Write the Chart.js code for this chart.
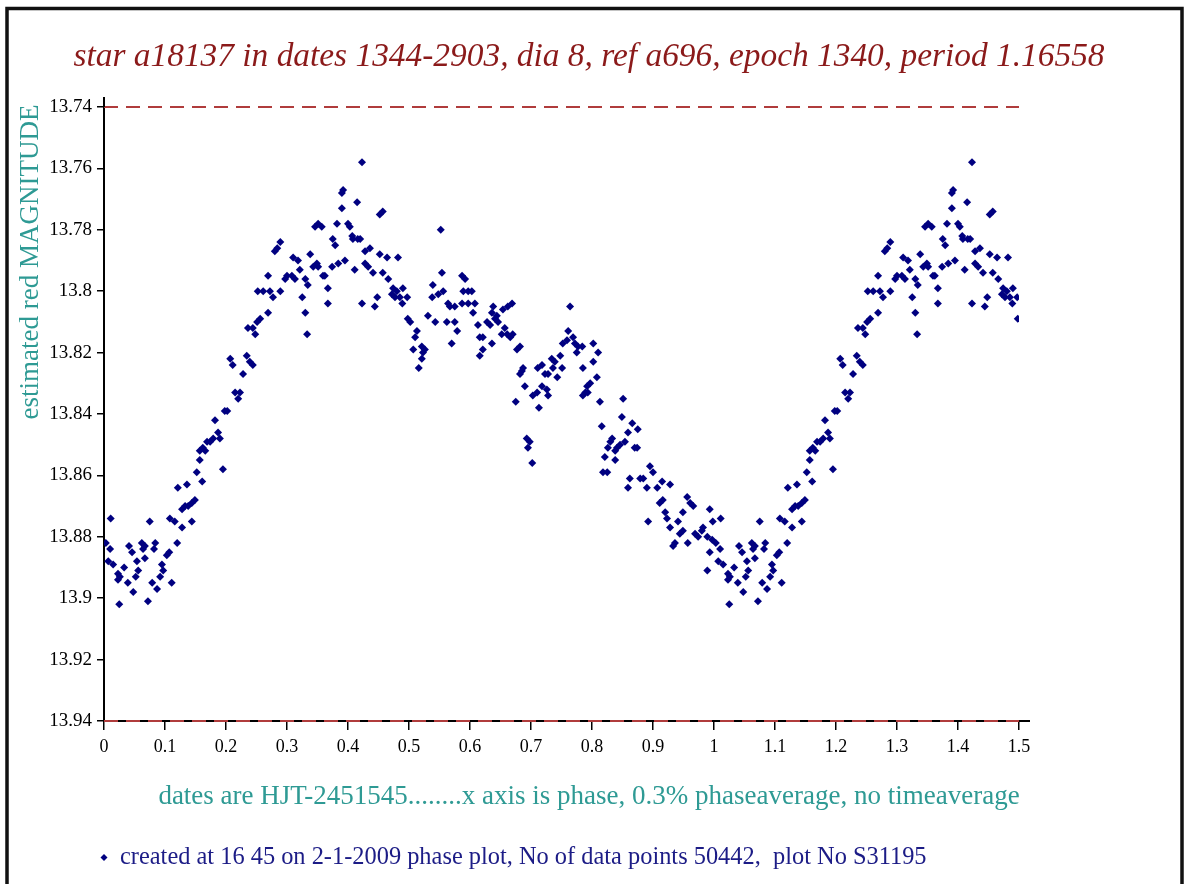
<!DOCTYPE html>
<html>
<head>
<meta charset="utf-8">
<title>star a18137 phase plot</title>
<script src="https://cdn.jsdelivr.net/npm/chart.js@4.4.1/dist/chart.umd.min.js"></script>
<style>
    html, body { margin: 0; padding: 0; background: #fff; }
    #wrap { position: relative; width: 1186px; height: 884px; }
</style>
</head>
<body>
<div id="wrap"><canvas id="phasePlot" width="1186" height="884"></canvas></div>
<script>
// --- Data: phase 0..1 (the 1..1.5 part repeats 0..0.5) ---
const phase = [
    // rising branch, minimum
    0.003,0.007,0.010,0.011,0.015,0.023,0.023,0.025,0.026,0.033,0.039,0.041,0.046,0.048,0.052,0.054,0.056,0.062,0.064,0.067,
    0.067,0.072,0.075,0.079,0.082,0.084,0.087,0.092,0.095,0.097,0.103,0.107,0.108,0.111,0.116,0.120,0.121,0.128,0.128,0.133,
    0.136,0.138,0.144,0.144,0.149,0.152,0.157,0.157,0.161,0.162,0.166,0.169,
    0.174,0.179,0.182,0.187,0.190,0.195,0.198,0.202,0.207,0.211,0.215,0.220,0.223,0.228,0.234,0.236,0.239,0.244,0.244,0.248,
    0.251,0.252,0.256,0.261,0.269,0.269,0.272,0.277,0.280,0.284,0.289,0.289,0.297,0.300,
    // maximum
    0.308,0.310,0.313,0.318,0.321,0.325,0.330,0.330,0.333,0.334,0.338,0.343,0.346,0.349,0.351,0.351,0.357,0.359,0.362,0.367,
    0.367,0.374,0.375,0.379,0.382,0.384,0.390,0.390,0.392,0.395,0.400,0.403,0.407,0.408,0.411,0.415,0.416,
    0.420,0.423,0.423,0.428,0.428,0.433,0.436,0.441,0.444,0.448,0.452,0.452,0.457,0.457,0.464,0.466,0.472,0.474,0.477,0.480,
    0.482,0.485,0.489,0.490,0.497,0.498,0.502,0.507,0.510,0.513,0.516,0.521,0.521,0.523,0.526,0.531,0.538,0.539,0.543,0.548,
    0.552,0.554,0.556,0.562,0.564,0.567,0.570,0.575,0.575,0.579,
    // shoulder and decline
    0.587,0.587,0.589,0.592,0.597,0.597,0.603,0.605,0.608,0.613,0.616,0.616,0.621,0.621,0.628,0.633,0.636,0.636,0.638,0.641,
    0.644,0.646,0.652,0.654,0.657,0.661,0.662,0.666,0.669,0.670,0.675,0.677,0.682,0.682,0.685,0.687,0.690,0.693,0.695,0.698,
    0.702,0.703,0.710,0.711,0.713,0.718,0.718,0.723,0.726,0.728,0.728,0.734,0.736,0.739,0.743,0.748,0.751,0.752,0.759,0.761,
    0.764,0.769,0.772,0.775,0.777,
    0.784,0.785,0.785,0.789,0.792,0.793,0.797,0.802,0.802,0.808,0.810,0.813,0.816,0.818,0.821,0.825,0.826,0.830,0.833,0.838,
    0.838,0.841,0.846,0.849,0.851,0.854,0.859,0.859,0.862,0.866,0.870,0.874,0.875,0.879,0.884,0.895,0.900,
    0.890,0.892,0.907,0.911,0.915,0.916,0.920,0.923,0.928,0.928,0.933,0.936,0.941,0.944,0.949,0.949,0.956,0.957,0.961,0.966,
    0.969,0.974,0.980,0.982,0.989,0.989,0.993,0.993,0.997,0.998
];
const magnitude = [
    13.882,13.888,13.884,13.874,13.889,13.892,13.894,13.902,13.893,13.890,13.895,13.883,13.885,13.898,13.893,13.888,13.891,13.882,13.884,13.883,
    13.887,13.901,13.875,13.895,13.884,13.882,13.897,13.893,13.889,13.891,13.886,13.885,13.874,13.895,13.875,13.882,13.864,13.871,13.877,13.870,
    13.863,13.870,13.869,13.875,13.868,13.859,13.852,13.855,13.862,13.851,13.852,13.849,
    13.849,13.848,13.842,13.846,13.848,13.858,13.839,13.839,13.822,13.824,13.833,13.835,13.833,13.827,13.821,13.812,13.823,13.812,13.824,13.814,
    13.810,13.800,13.809,13.800,13.795,13.807,13.800,13.802,13.787,13.786,13.784,13.800,13.796,13.795,
    13.795,13.789,13.796,13.790,13.793,13.802,13.796,13.807,13.814,13.798,13.788,13.792,13.779,13.791,13.778,13.792,13.779,13.795,13.795,13.799,
    13.804,13.792,13.783,13.785,13.778,13.791,13.768,13.773,13.767,13.790,13.778,13.779,13.782,13.783,13.793,13.771,13.783,
    13.783,13.758,13.804,13.787,13.791,13.792,13.786,13.794,13.805,13.802,13.775,13.788,13.774,13.794,13.789,13.796,13.801,13.799,13.802,13.800,
    13.789,13.802,13.804,13.799,13.802,13.809,13.810,13.819,13.815,13.813,13.825,13.818,13.822,13.820,13.819,13.808,13.802,13.798,13.810,13.801,
    13.780,13.794,13.800,13.810,13.804,13.805,13.817,13.805,13.810,13.813,
    13.795,13.804,13.800,13.796,13.800,13.804,13.800,13.807,13.804,13.811,13.815,13.821,13.815,13.819,13.810,13.811,13.807,13.817,13.805,13.809,
    13.808,13.810,13.814,13.806,13.812,13.814,13.805,13.815,13.804,13.814,13.836,13.819,13.818,13.827,13.826,13.825,13.831,13.848,13.851,13.849,
    13.856,13.834,13.833,13.825,13.838,13.824,13.831,13.827,13.832,13.827,13.834,13.822,13.825,13.823,13.828,13.821,13.825,13.817,13.816,13.813,
    13.805,13.815,13.817,13.820,13.818,
    13.818,13.825,13.834,13.833,13.831,13.833,13.830,13.817,13.823,13.828,13.820,13.836,13.844,13.859,13.854,13.859,13.851,13.849,13.848,13.852,
    13.855,13.851,13.850,13.841,13.835,13.849,13.846,13.864,13.861,13.843,13.851,13.851,13.845,13.861,13.861,13.857,13.859,
    13.864,13.875,13.864,13.869,13.862,13.868,13.872,13.874,13.863,13.877,13.883,13.882,13.875,13.879,13.872,13.878,13.867,13.882,13.869,13.870,
    13.879,13.880,13.878,13.877,13.880,13.891,13.871,13.885,13.881,13.875
];

// axis ranges (magnitude axis runs downwards)
const magRange = [13.74, 13.94];
const phaseRange = [0, 1.5];

const titleText = 'star a18137 in dates 1344-2903, dia 8, ref a696, epoch 1340, period 1.16558';
const yTitleText = 'estimated red MAGNITUDE';
const captionText = 'dates are HJT-2451545........x axis is phase, 0.3% phaseaverage, no timeaverage';
const footText = 'created at 16 45 on 2-1-2009 phase plot, No of data points 50442,  plot No S31195';

const SERIF = '"Liberation Serif", "DejaVu Serif", serif';
const NAVY = '#000080';

// phase plot shows each point once, and again shifted by one period up to 1.5
const points = [];
phase.forEach((p, i) => {
    points.push({ x: p, y: magnitude[i] });
    if (p + 1 <= phaseRange[1]) points.push({ x: p + 1, y: magnitude[i] });
});

// plain number labels: 13.8, 1 (no trailing zeros)
const plainTick = v => String(+Number(v).toFixed(3));

function limitLine(mag) {
    return {
        type: 'line',
        data: [{ x: phaseRange[0], y: mag }, { x: phaseRange[1], y: mag }],
        showLine: true,
        clip: false,
        borderColor: '#b03c3c',
        backgroundColor: '#b03c3c',
        borderWidth: 2,
        borderDash: [14, 8],
        pointRadius: 0,
        fill: false
    };
}

// --- frame + free text that Chart.js does not place the way the original does ---
const frameAndText = {
    id: 'frameAndText',
    beforeDraw(chart) {
        const ctx = chart.ctx;
        ctx.save();
        ctx.fillStyle = '#fff';
        ctx.fillRect(0, 0, chart.width, chart.height);
        ctx.restore();
    },
    afterDraw(chart) {
        const { ctx, chartArea } = chart;
        ctx.save();

        // outer frame (bottom edge is cut off in the original)
        ctx.strokeStyle = '#111';
        ctx.lineWidth = 3.5;
        ctx.beginPath();
        ctx.moveTo(7, 884); ctx.lineTo(7, 8.5); ctx.lineTo(1182, 8.5); ctx.lineTo(1182, 884);
        ctx.stroke();

        // axis lines run a bit past the plot area
        ctx.strokeStyle = '#000';
        ctx.lineWidth = 2;
        ctx.beginPath();
        ctx.moveTo(chartArea.left, chartArea.top); ctx.lineTo(chartArea.left, chartArea.top - 10);
        ctx.moveTo(chartArea.right, chartArea.bottom); ctx.lineTo(chartArea.right + 11, chartArea.bottom);
        ctx.stroke();

        // title
        ctx.fillStyle = '#8b1a1a';
        ctx.font = 'italic 33.4px ' + SERIF;
        ctx.textAlign = 'center';
        ctx.textBaseline = 'middle';
        ctx.fillText(titleText, 589, 57);

        // y title, rotated, sits high like the original
        ctx.save();
        ctx.translate(31, 262);
        ctx.rotate(-Math.PI / 2);
        ctx.fillStyle = '#2e9a94';
        ctx.font = '27px ' + SERIF;
        ctx.fillText(yTitleText, 0, 0);
        ctx.restore();

        // x caption
        ctx.fillStyle = '#2e9a94';
        ctx.font = '27px ' + SERIF;
        ctx.fillText(captionText, 589, 797);

        // footnote with marker
        ctx.fillStyle = NAVY;
        ctx.beginPath();
        ctx.moveTo(104, 854); ctx.lineTo(107.5, 857.5); ctx.lineTo(104, 861); ctx.lineTo(100.5, 857.5);
        ctx.closePath();
        ctx.fill();
        ctx.fillStyle = '#1c1c86';
        ctx.font = '24.4px ' + SERIF;
        ctx.textAlign = 'left';
        ctx.fillText(footText, 120, 858);

        ctx.restore();
    }
};

new Chart(document.getElementById('phasePlot'), {
    type: 'scatter',
    data: {
        datasets: [
            {
                label: footText,
                data: points,
                pointStyle: 'rectRot',
                pointRadius: 4,
                pointHoverRadius: 4,
                backgroundColor: NAVY,
                borderWidth: 0
            },
            limitLine(magRange[0]),
            limitLine(magRange[1])
        ]
    },
    options: {
        responsive: false,
        animation: false,
        devicePixelRatio: 1,
        layout: { padding: { left: 0, top: 107, right: 167, bottom: 0 } },
        plugins: {
            legend: { display: false },
            tooltip: { enabled: false },
            title: { display: false }
        },
        scales: {
            x: {
                type: 'linear',
                min: phaseRange[0],
                max: phaseRange[1],
                afterFit: s => { s.height = 163; },
                ticks: {
                    stepSize: 0.1,
                    autoSkip: false,
                    maxRotation: 0,
                    padding: 6,
                    color: '#000',
                    font: { family: SERIF, size: 18 },
                    callback: plainTick
                },
                grid: { drawOnChartArea: false, tickLength: 9, color: '#000', lineWidth: 1.5 },
                border: { color: '#000', width: 2 }
            },
            y: {
                reverse: true,
                min: magRange[0],
                max: magRange[1],
                afterFit: s => { s.width = 104; },
                ticks: {
                    stepSize: 0.02,
                    padding: 5,
                    color: '#000',
                    font: { family: SERIF, size: 19 },
                    callback: plainTick
                },
                grid: { drawOnChartArea: false, tickLength: 7, color: '#000', lineWidth: 1.5 },
                border: { color: '#000', width: 2 }
            }
        }
    },
    plugins: [frameAndText]
});
</script>
</body>
</html>
